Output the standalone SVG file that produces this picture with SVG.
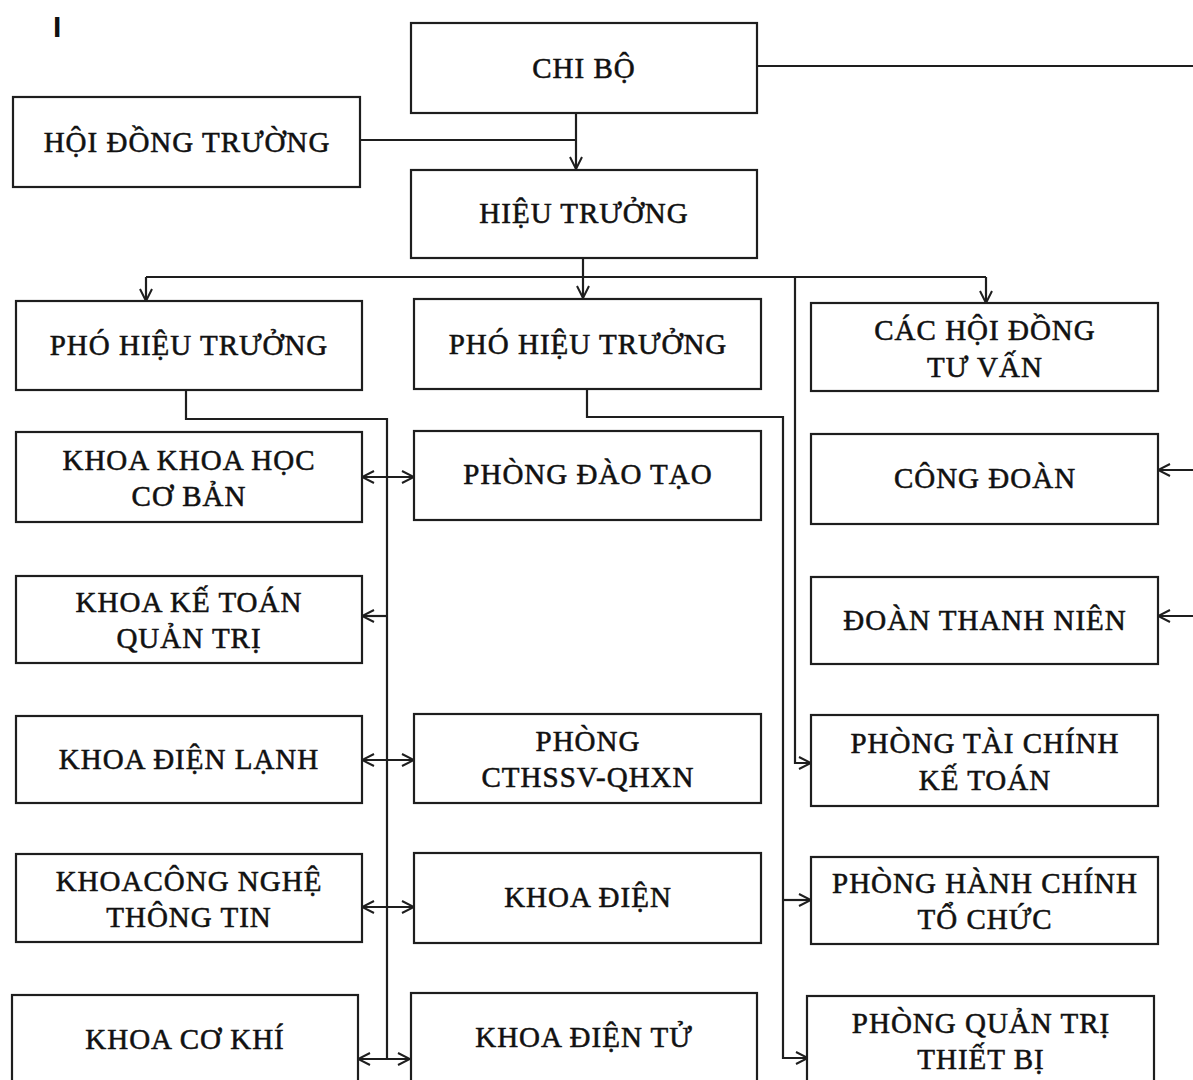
<svg xmlns="http://www.w3.org/2000/svg" width="1193" height="1080" viewBox="0 0 1193 1080">
<defs>
<style>
.box{fill:#fff;stroke:#1e1e1e;stroke-width:2.2}
.t{font-family:"Liberation Serif","Times New Roman",serif;font-size:29px;letter-spacing:1px;fill:#111;stroke:#111;stroke-width:0.55px;text-anchor:middle}
.c{fill:none;stroke:#1e1e1e;stroke-width:2.2}
</style>
<marker id="ah" viewBox="0 0 14 14" refX="13" refY="7" markerWidth="14" markerHeight="14" markerUnits="userSpaceOnUse" orient="auto-start-reverse">
<path d="M1,1 L13,7 L1,13" fill="none" stroke="#1e1e1e" stroke-width="2"/>
</marker>
</defs>
<rect width="1193" height="1080" fill="#fff"/>
<text x="53" y="37" font-family="Liberation Sans,Arial,sans-serif" font-size="30" font-weight="700" fill="#111">I</text>

<g id="connectors">
<polyline class="c" points="360,140 576,140"/>
<line class="c" x1="576" y1="113" x2="576" y2="169" marker-end="url(#ah)"/>
<line class="c" x1="757" y1="66" x2="1193" y2="66"/>
<line class="c" x1="583" y1="258" x2="583" y2="298" marker-end="url(#ah)"/>
<line class="c" x1="146" y1="277" x2="986" y2="277"/>
<line class="c" x1="146" y1="277" x2="146" y2="301" marker-end="url(#ah)"/>
<line class="c" x1="986" y1="277" x2="986" y2="303" marker-end="url(#ah)"/>
<polyline class="c" points="795,277 795,763 811,763" marker-end="url(#ah)"/>
<polyline class="c" points="587,389 587,417 783,417 783,1058 808,1058" marker-end="url(#ah)"/>
<line class="c" x1="783" y1="900" x2="811" y2="900" marker-end="url(#ah)"/>
<polyline class="c" points="186,390 186,419 387,419 387,1060"/>
<line class="c" x1="362" y1="477" x2="414" y2="477" marker-start="url(#ah)" marker-end="url(#ah)"/>
<line class="c" x1="387" y1="616" x2="362" y2="616" marker-end="url(#ah)"/>
<line class="c" x1="362" y1="760" x2="414" y2="760" marker-start="url(#ah)" marker-end="url(#ah)"/>
<line class="c" x1="362" y1="907" x2="414" y2="907" marker-start="url(#ah)" marker-end="url(#ah)"/>
<line class="c" x1="358" y1="1059" x2="410" y2="1059" marker-start="url(#ah)" marker-end="url(#ah)"/>
<line class="c" x1="1193" y1="470" x2="1158" y2="470" marker-end="url(#ah)"/>
<line class="c" x1="1193" y1="616" x2="1158" y2="616" marker-end="url(#ah)"/>
</g>

<g id="chi-bo"><rect class="box" x="411" y="23" width="346" height="90"/><text class="t" x="584" y="78">CHI BỘ</text></g>
<g id="hoi-dong-truong"><rect class="box" x="13" y="97" width="347" height="90"/><text class="t" x="187" y="152">HỘI ĐỒNG TRƯỜNG</text></g>
<g id="hieu-truong"><rect class="box" x="411" y="170" width="346" height="88"/><text class="t" x="584" y="223">HIỆU TRƯỞNG</text></g>
<g id="pho-hieu-truong-1"><rect class="box" x="16" y="301" width="346" height="89"/><text class="t" x="189" y="355">PHÓ HIỆU TRƯỞNG</text></g>
<g id="pho-hieu-truong-2"><rect class="box" x="414" y="299" width="347" height="90"/><text class="t" x="588" y="354">PHÓ HIỆU TRƯỞNG</text></g>
<g id="cac-hoi-dong-tu-van"><rect class="box" x="811" y="303" width="347" height="88"/><text class="t" x="985" y="340">CÁC HỘI ĐỒNG</text><text class="t" x="985" y="377">TƯ VẤN</text></g>

<g id="khoa-khoa-hoc-co-ban"><rect class="box" x="16" y="432" width="346" height="90"/><text class="t" x="189" y="470">KHOA KHOA HỌC</text><text class="t" x="189" y="506">CƠ BẢN</text></g>
<g id="phong-dao-tao"><rect class="box" x="414" y="431" width="347" height="89"/><text class="t" x="588" y="484">PHÒNG ĐÀO TẠO</text></g>
<g id="cong-doan"><rect class="box" x="811" y="434" width="347" height="90"/><text class="t" x="985" y="488">CÔNG ĐOÀN</text></g>

<g id="khoa-ke-toan-quan-tri"><rect class="box" x="16" y="576" width="346" height="87"/><text class="t" x="189" y="612">KHOA KẾ TOÁN</text><text class="t" x="189" y="648">QUẢN TRỊ</text></g>
<g id="doan-thanh-nien"><rect class="box" x="811" y="577" width="347" height="87"/><text class="t" x="985" y="630">ĐOÀN THANH NIÊN</text></g>

<g id="khoa-dien-lanh"><rect class="box" x="16" y="716" width="346" height="87"/><text class="t" x="189" y="769">KHOA ĐIỆN LẠNH</text></g>
<g id="phong-cthssv-qhxn"><rect class="box" x="414" y="714" width="347" height="89"/><text class="t" x="588" y="751">PHÒNG</text><text class="t" x="588" y="787">CTHSSV-QHXN</text></g>
<g id="phong-tai-chinh-ke-toan"><rect class="box" x="811" y="715" width="347" height="91"/><text class="t" x="985" y="753">PHÒNG TÀI CHÍNH</text><text class="t" x="985" y="790">KẾ TOÁN</text></g>

<g id="khoa-cong-nghe-thong-tin"><rect class="box" x="16" y="854" width="346" height="88"/><text class="t" x="189" y="891">KHOACÔNG NGHỆ</text><text class="t" x="189" y="927">THÔNG TIN</text></g>
<g id="khoa-dien"><rect class="box" x="414" y="853" width="347" height="90"/><text class="t" x="588" y="907">KHOA ĐIỆN</text></g>
<g id="phong-hanh-chinh-to-chuc"><rect class="box" x="811" y="857" width="347" height="87"/><text class="t" x="985" y="893">PHÒNG HÀNH CHÍNH</text><text class="t" x="985" y="929">TỔ CHỨC</text></g>

<g id="khoa-co-khi"><rect class="box" x="12" y="995" width="346" height="92"/><text class="t" x="185" y="1049">KHOA CƠ KHÍ</text></g>
<g id="khoa-dien-tu"><rect class="box" x="411" y="993" width="346" height="94"/><text class="t" x="584" y="1047">KHOA ĐIỆN TỬ</text></g>
<g id="phong-quan-tri-thiet-bi"><rect class="box" x="807" y="996" width="347" height="91"/><text class="t" x="981" y="1033">PHÒNG QUẢN TRỊ</text><text class="t" x="981" y="1069">THIẾT BỊ</text></g>
</svg>
